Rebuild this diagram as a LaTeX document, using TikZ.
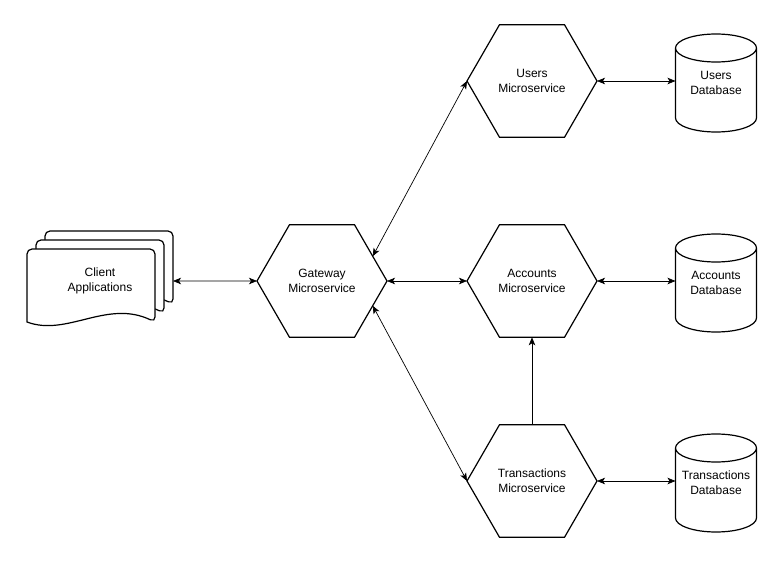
\documentclass[tikz,border=0pt]{standalone}
\usepackage{fontspec}
\setmainfont{Liberation Sans}
\usetikzlibrary{shapes.geometric,arrows.meta}
\begin{document}
\begin{tikzpicture}[x=1pt,y=-1pt,
  >={Stealth[length=8pt,width=6.5pt,inset=2pt]},
  txt/.style={align=center,font=\fontsize{12}{15}\selectfont},
  hexa/.style={txt,draw,line width=1.2pt,regular polygon,regular polygon sides=6,minimum size=130pt,inner sep=0pt,outer sep=0pt},
  dbase/.style={txt,minimum width=81pt,minimum height=98pt,inner sep=0pt,outer sep=0pt},
  link/.style={line width=0.7pt}]
\useasboundingbox (0,0) rectangle (782,564);
\foreach \d in {18,9,0}
  \draw[line width=1.2pt,fill=white] (27+\d,322-\d) [rounded corners=5pt] -- (27+\d,249-\d) -- (155+\d,249-\d)
  -- (155+\d,322-\d) [sharp corners] .. controls (107+\d,299-\d) and (67+\d,337-\d) .. (27+\d,322-\d) -- cycle;
\node[txt,minimum width=146pt,inner sep=0pt,outer sep=0pt] (client) at (100,281) {Client\\Applications};
\node[hexa] (gw) at (322,281) {Gateway\\Microservice};
\node[hexa] (users) at (532,81) {Users\\Microservice};
\node[hexa] (accounts) at (532,281) {Accounts\\Microservice};
\node[hexa] (trans) at (532,481) {Transactions\\Microservice};
\node[dbase] (usersdb) at (716,83) {Users\\Database};
\node[dbase] (accountsdb) at (716,283) {Accounts\\Database};
\node[dbase] (transdb) at (716,483) {Transactions\\Database};
\foreach \n in {usersdb,accountsdb,transdb}
  \draw[line width=1.2pt] ([yshift=-14pt]\n.north west) -- ([yshift=14pt]\n.south west)
  arc[start angle=180,end angle=360,x radius=40.5pt,y radius=14pt] -- ([yshift=-14pt]\n.north east)
  ([yshift=-14pt]\n.north) ellipse[x radius=40.5pt,y radius=14pt];
\draw[link,<->] (client.east) -- (gw.west);
\draw[link,<->] (gw.26) -- (users.west);
\draw[link,<->] (gw.east) -- (accounts.west);
\draw[link,<->] (gw.-26) -- (trans.west);
\draw[link,->] (trans.north) -- (accounts.south);
\draw[link,<->] (users.east) -- (usersdb.west |- users.east);
\draw[link,<->] (accounts.east) -- (accountsdb.west |- accounts.east);
\draw[link,<->] (trans.east) -- (transdb.west |- trans.east);
\end{tikzpicture}
\end{document}
